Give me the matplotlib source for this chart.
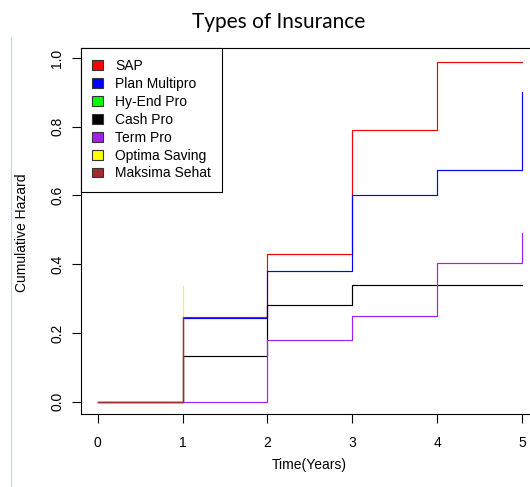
import matplotlib
matplotlib.use("Agg")
import matplotlib.pyplot as plt
from matplotlib.patches import Patch
from matplotlib.lines import Line2D

plt.rcParams['font.family'] = ['Liberation Sans', 'DejaVu Sans']

# cumulative hazard, one series per product
names = ['SAP', 'Plan Multipro', 'Hy-End Pro', 'Cash Pro', 'Term Pro',
         'Optima Saving', 'Maksima Sehat']
colors = ['#FF0000', '#0000FF', '#00FF00', '#000000', '#A020F0',
          '#FFFF00', '#A52A2A']

sap_t = [0, 1, 2, 3, 4, 5]
sap_h = [0, 0.245, 0.431, 0.790, 0.987, 0.987]
multipro_t = [0, 1, 2, 3, 4, 5]
multipro_h = [0, 0.242, 0.380, 0.600, 0.673, 0.901]
hyend_t = [0, 1]
hyend_h = [0, 0]
cashpro_t = [0, 1, 2, 3, 4, 5]
cashpro_h = [0, 0.133, 0.281, 0.339, 0.339, 0.339]
termpro_t = [0, 1, 2, 3, 4, 5]
termpro_h = [0, 0, 0.179, 0.249, 0.402, 0.492]
optima_t = [0, 1]
optima_h = [0, 0.337]
maksima_t = [0, 1]
maksima_h = [0, 0.245]

series = [(sap_t, sap_h), (multipro_t, multipro_h), (hyend_t, hyend_h),
          (cashpro_t, cashpro_h), (termpro_t, termpro_h),
          (optima_t, optima_h), (maksima_t, maksima_h)]

W, H = 530, 487
fig = plt.figure(figsize=(W / 100, H / 100), dpi=100)
ax = fig.add_axes([80.7 / W, 73 / H, (539 - 80.7) / W, 366 / H])

for (t, h), c in zip(series, colors):
    ax.plot(t, h, drawstyle='steps-post', color=c, lw=0.85)

ax.set_xlim(-0.2, 5.2)
ax.set_ylim(-0.036, 1.029)
ax.set_xticks([0, 1, 2, 3, 4, 5])
ax.set_yticks([0.0, 0.2, 0.4, 0.6, 0.8, 1.0])
ax.set_yticklabels(['0.0', '0.2', '0.4', '0.6', '0.8', '1.0'])
for s in ax.spines.values():
    s.set_linewidth(0.8)
ax.tick_params(axis='both', length=6.3, width=0.8, labelsize=10)
ax.tick_params(axis='x', pad=9.5)
ax.tick_params(axis='y', pad=5.5)
for lbl in ax.get_yticklabels():
    lbl.set_rotation(90)
    lbl.set_va('center')

handles = [Patch(facecolor=c, edgecolor='#333333', lw=0.8) for c in colors]
leg = ax.legend(handles, names, loc='upper left', fontsize=10,
                borderaxespad=0, borderpad=0.8, handlelength=0.8,
                handleheight=0.7, handletextpad=0.9, labelspacing=0.28,
                fancybox=False, framealpha=1, edgecolor='black')
leg.get_frame().set_linewidth(0.8)

fig.text(279 / W, 1 - 28.3 / H, 'Types of Insurance', family='Lato',
         fontsize=15, ha='center', va='baseline')
fig.text(309.5 / W, 1 - 465 / H, 'Time(Years)', fontsize=10,
         ha='center', va='center')
fig.text(21.7 / W, 1 - 232.5 / H, 'Cumulative Hazard', fontsize=10,
         rotation=90, ha='center', va='center')

# thin light-blue rule at the far left of the screenshot
fig.add_artist(Line2D([10.7 / W, 10.7 / W], [0, 1 - 36.7 / H],
                      transform=fig.transFigure, color='#BDD7EE', lw=0.8))

fig.savefig('out.png', dpi=100)
